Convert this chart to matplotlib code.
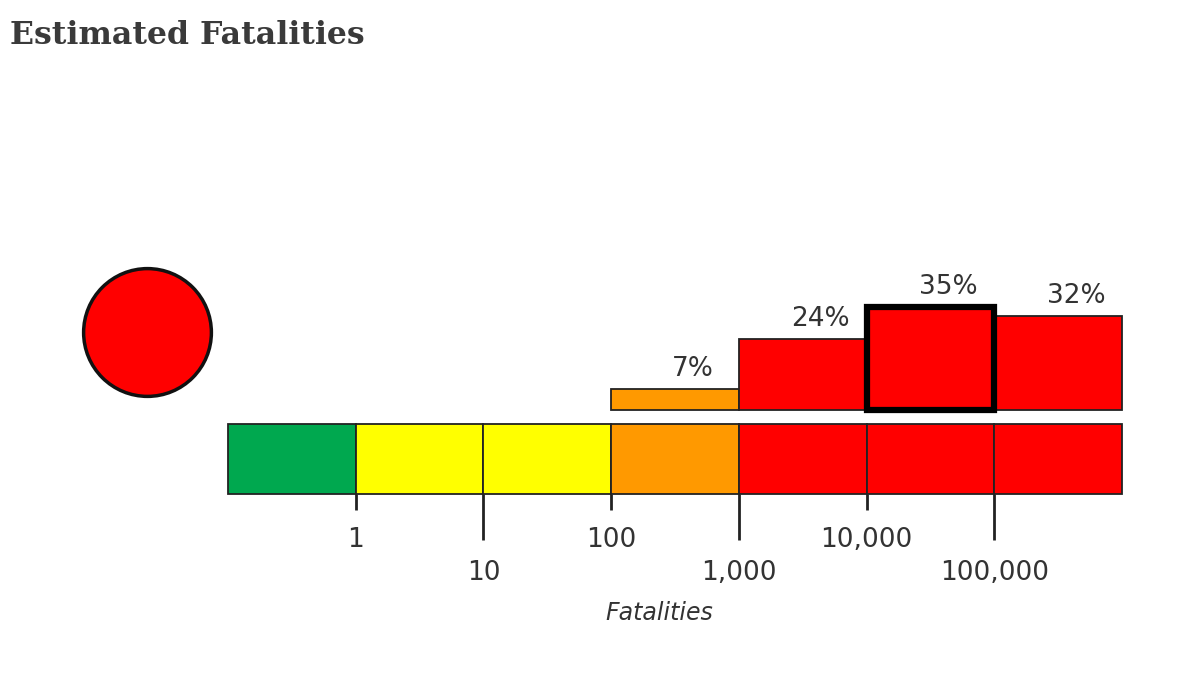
import matplotlib
matplotlib.use("Agg")
import matplotlib.pyplot as plt

# ---- data ----
scale_colors = ['#00a84f', '#ffff00', '#ffff00', '#ff9900', '#ff0000', '#ff0000', '#ff0000']
tick_labels = ['1', '10', '100', '1,000', '10,000', '100,000']
prob_bins = [3, 4, 5, 6]            # bins (index into scale) with probability bars
prob_values = [7, 24, 35, 32]       # percent
prob_colors = ['#ff9900', '#ff0000', '#ff0000', '#ff0000']
highlight_bin = 5
alert_color = '#ff0000'
title = 'Estimated Fatalities'
xlabel = 'Fatalities'

W, H = 1200, 675
fig = plt.figure(figsize=(W / 100, H / 100), dpi=100)
ax = fig.add_axes([0, 0, 1, 1])

# pixel -> data mapping
px_per_x = (1122 - 228) / 7.0
px_per_y = 2.95
x0_px, y0_px = 228, 410
ax.set_xlim(-x0_px / px_per_x, (W - x0_px) / px_per_x)
ax.set_ylim(-(H - y0_px) / px_per_y, y0_px / px_per_y)
ax.axis('off')

def ypx(p):
    return (y0_px - p) / px_per_y

txt = '#333333'

# colour scale bar
cb_top, cb_bot = ypx(424), ypx(494)
ax.bar(range(len(scale_colors)), cb_top - cb_bot, bottom=cb_bot, width=1.0, align='edge',
       color=scale_colors, edgecolor='#222222', linewidth=1.3)

# tick marks and labels
for i, lab in enumerate(tick_labels):
    xb = i + 1
    long = (i % 2 == 1)
    yend = ypx(540) if long else ypx(510)
    ax.plot([xb, xb], [cb_bot, yend], color='#222222', lw=2.0, solid_capstyle='butt')
    ly = ypx(573) if long else ypx(540)
    ax.text(xb, ly, lab, ha='center', va='center', fontsize=19, color=txt)

ax.text((659 - x0_px) / px_per_x, ypx(613), xlabel, ha='center', va='center',
        fontsize=17, style='italic', color=txt)

# probability bars
for b, v, c in zip(prob_bins, prob_values, prob_colors):
    hl = (b == highlight_bin)
    lw = 4.5 if hl else 1.3
    ax.bar(b + 0.5, v, width=1.0, color=c, edgecolor='black' if hl else '#222222',
           linewidth=lw, zorder=4 if hl else 3)
    ax.text(b + 0.64, v + 6.8, f'{v}%', ha='center', va='center', fontsize=19,
            color=txt, zorder=5)

# alert circle
ax.scatter([(147 - x0_px) / px_per_x], [ypx(332)], s=92 ** 2, color=alert_color,
           edgecolors='#111111', linewidths=2.5, zorder=5)

fig.text(10 / W, 1 - 35 / H, title, ha='left', va='center', fontsize=22.8,
         fontweight='bold', family='DejaVu Serif', color='#3a3a3a')

fig.savefig('out.png', dpi=100)
